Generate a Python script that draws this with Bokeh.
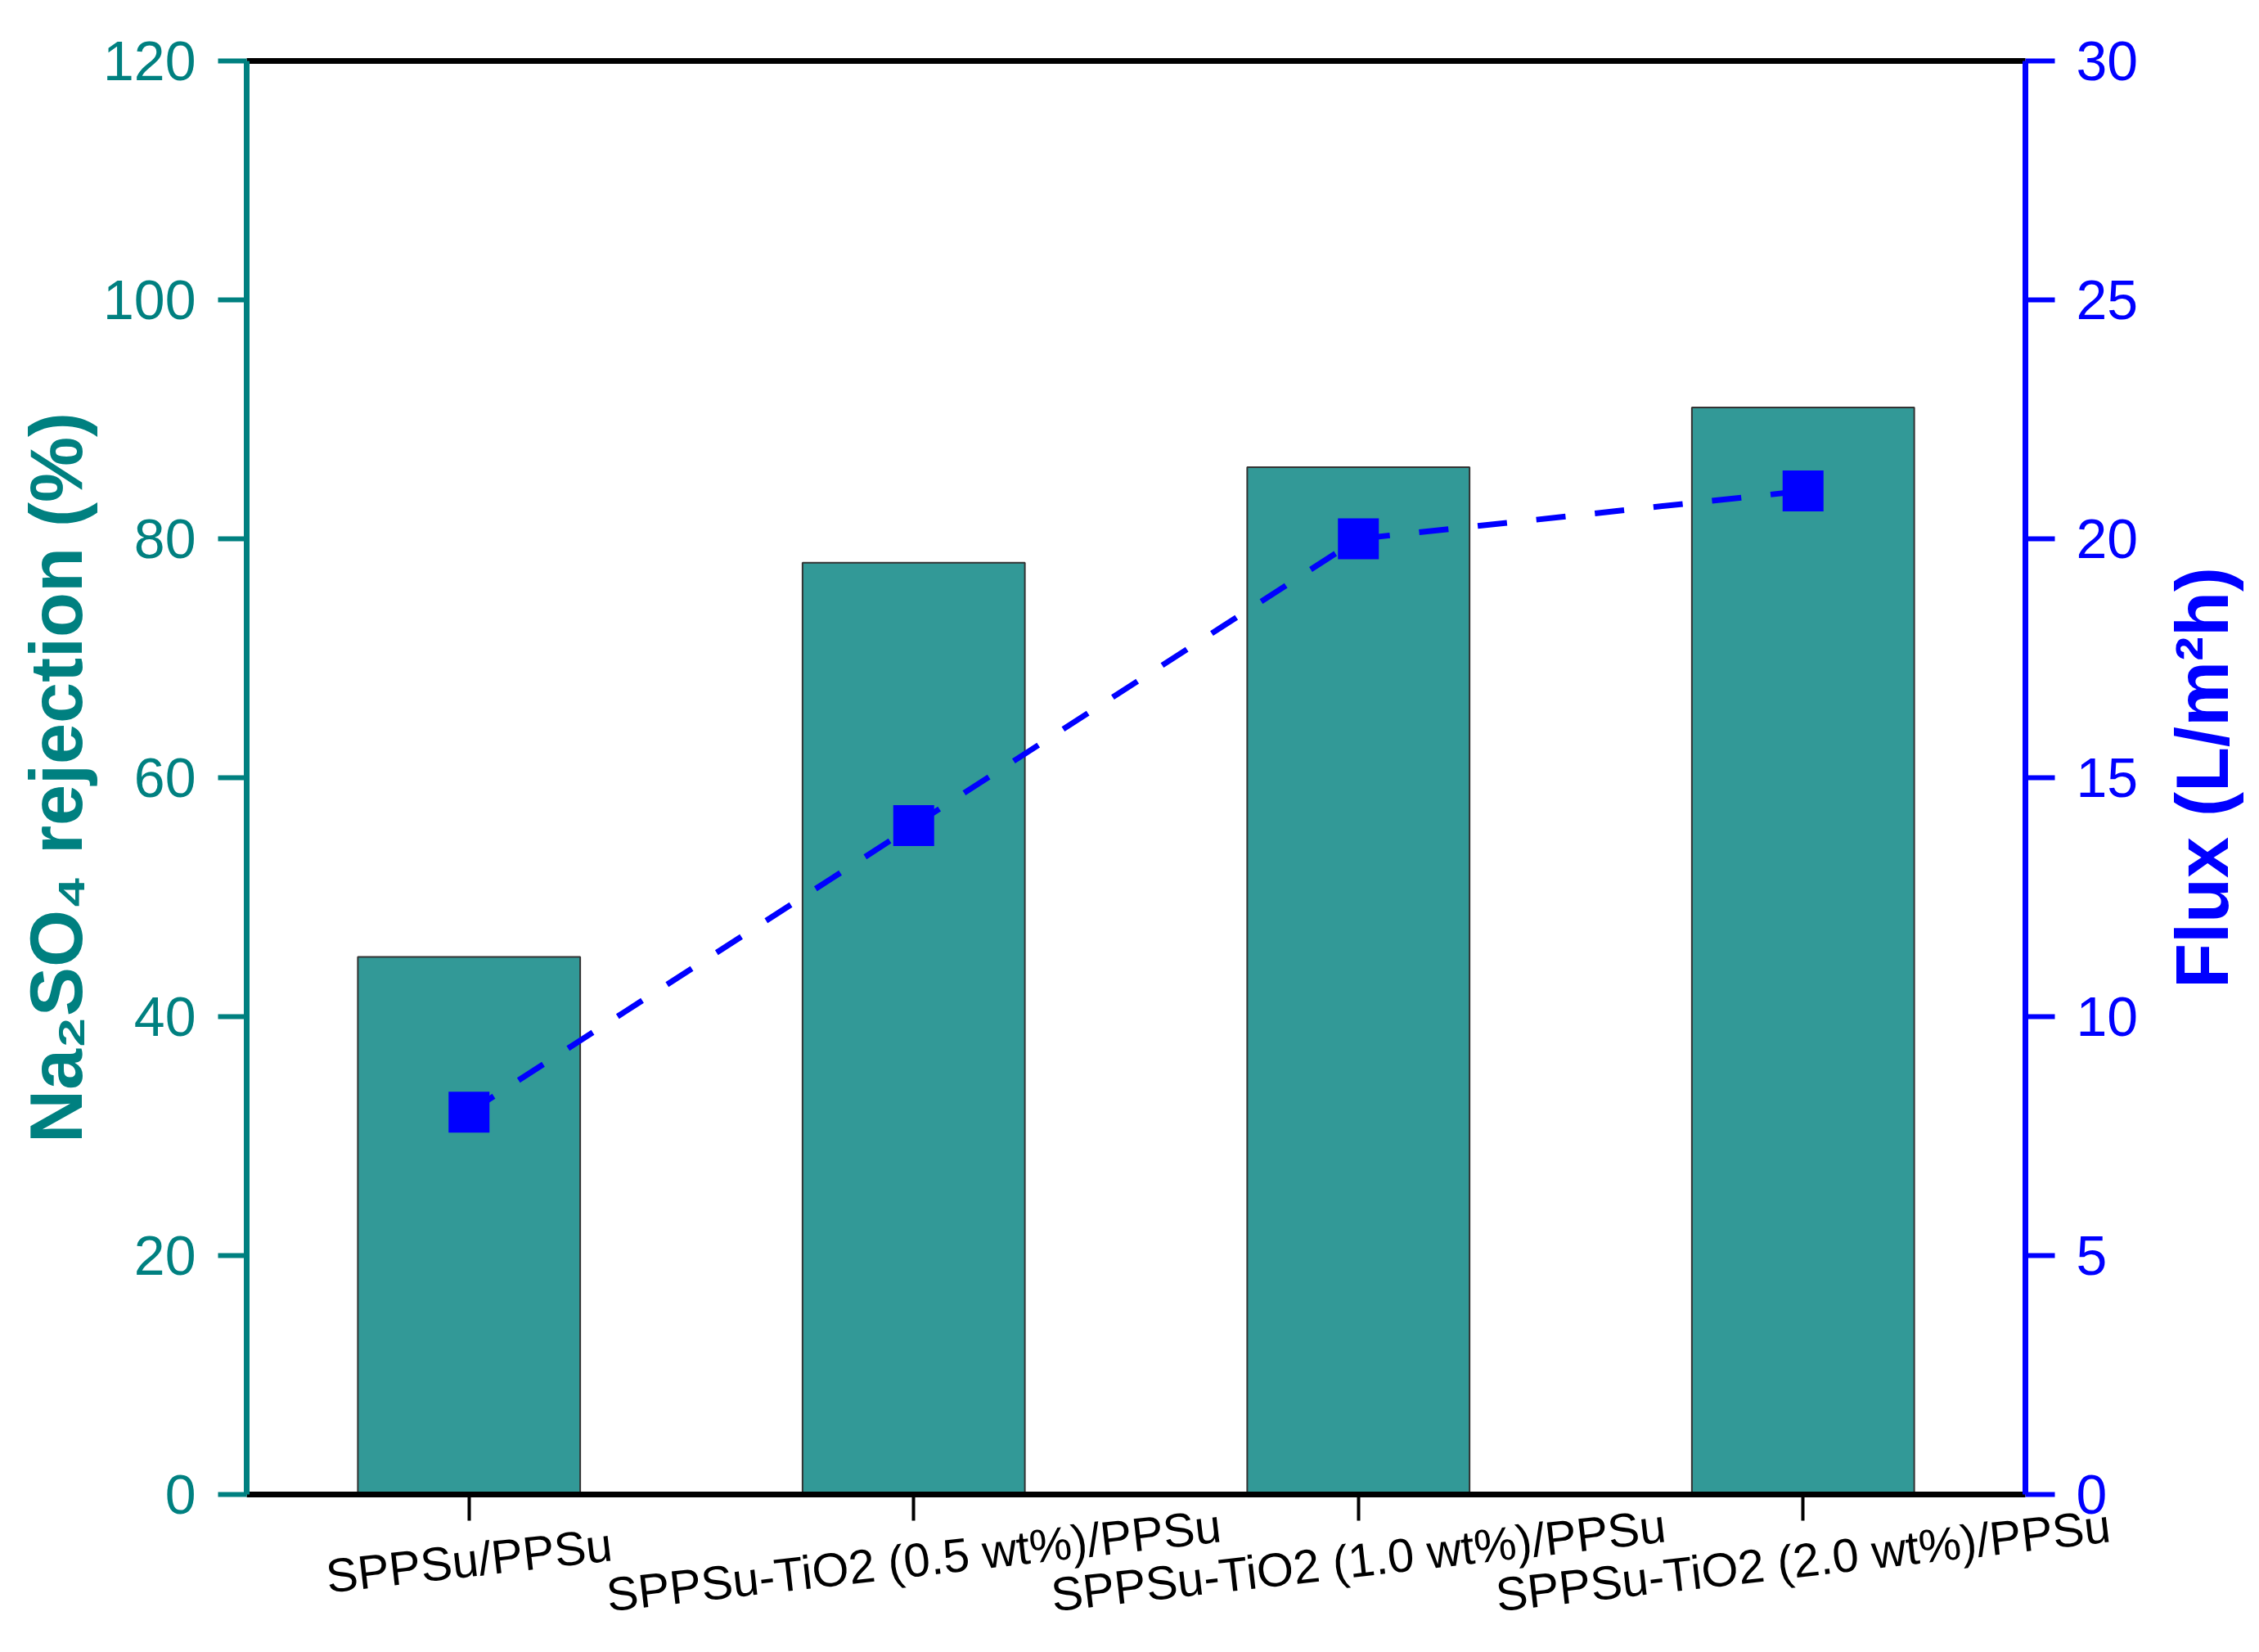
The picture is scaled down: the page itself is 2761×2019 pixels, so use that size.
from bokeh.plotting import figure
from bokeh.models import (Range1d, LinearAxis, FixedTicker,
                          ColumnDataSource, Label)
from bokeh.embed import file_html
from bokeh.resources import INLINE

# ---- data ----
categories = ["SPPSu/PPSu",
              "SPPSu-TiO2 (0.5 wt%)/PPSu",
              "SPPSu-TiO2 (1.0 wt%)/PPSu",
              "SPPSu-TiO2 (2.0 wt%)/PPSu"]
rejection = [45, 78, 86, 91]        # Na2SO4 rejection (%)
flux = [8, 14, 20, 21]              # Flux (L/m2h)
left_ticks = [0, 20, 40, 60, 80, 100, 120]
right_ticks = [0, 5, 10, 15, 20, 25, 30]
left_max = 120
right_max = 30

TEAL = "#008080"
BAR = "#329997"
BLUE = "#0000FF"
FONT = "Liberation Sans"

# ---- layout (pixels) ----
W, H = 2753, 2011
FL, FR, FT, FB = 301, 2475, 74, 1826   # axes box in page pixels

n = len(categories)
xpos = [i + 1 for i in range(n)]
x_lo, x_hi = 0.5, n + 0.5
xs = (FR - FL) / (x_hi - x_lo)
ys = (FB - FT) / left_max
x_range = Range1d(x_lo - FL / xs, x_hi + (W - FR) / xs)
y_range = Range1d(-(H - FB) / ys, left_max + FT / ys)
k = right_max / left_max
flux_range = Range1d(y_range.start * k, y_range.end * k)

src = ColumnDataSource(dict(x=xpos, cat=categories, rej=rejection, flux=flux))

p = figure(width=W, height=H, x_range=x_range, y_range=y_range,
           output_backend="svg", toolbar_location=None,
           x_axis_location=None, y_axis_location=None, min_border=0)
p.extra_y_ranges = {"flux": flux_range}
p.background_fill_color = "white"
p.border_fill_color = "white"
p.outline_line_color = None
p.grid.visible = False

# bars
p.vbar(x="x", top="rej", width=0.5, source=src, fill_color=BAR,
       line_color="#333333", line_width=2)

# flux line + markers
p.line(x="x", y="flux", source=src, y_range_name="flux", line_color=BLUE,
       line_width=7, line_dash="36 36")
p.scatter(x="x", y="flux", source=src, y_range_name="flux", marker="square",
          size=50, fill_color=BLUE, line_color=None)

# bottom axis (ticks only; category labels drawn rotated below)
ba = LinearAxis(fixed_location=0, ticker=FixedTicker(ticks=xpos),
                bounds=(x_lo, x_hi))
ba.major_label_overrides = {x: "" for x in xpos}
ba.axis_line_color = "black"
ba.axis_line_width = 7
ba.major_tick_line_color = "black"
ba.major_tick_line_width = 4
ba.major_tick_out = 32
ba.major_tick_in = 0
ba.minor_tick_line_color = None
p.add_layout(ba, "below")

# top border line
ta = LinearAxis(fixed_location=left_max, ticker=FixedTicker(ticks=[]),
                bounds=(x_lo, x_hi))
ta.axis_line_color = "black"
ta.axis_line_width = 7
ta.major_tick_line_color = None
ta.minor_tick_line_color = None
p.add_layout(ta, "above")

# left axis
la = LinearAxis(fixed_location=x_lo, ticker=FixedTicker(ticks=left_ticks),
                bounds=(0, left_max))
la.axis_line_color = TEAL
la.axis_line_width = 7
la.major_tick_line_color = TEAL
la.major_tick_line_width = 6
la.major_tick_out = 35
la.major_tick_in = 0
la.minor_tick_line_color = None
la.major_label_text_font = FONT
la.major_label_text_font_size = "68px"
la.major_label_text_color = TEAL
la.major_label_standoff = 27
la.axis_label = "Na₂SO₄ rejection (%)"
la.axis_label_text_font = FONT
la.axis_label_text_font_style = "bold"
la.axis_label_text_font_size = "90px"
la.axis_label_text_color = TEAL
la.axis_label_standoff = 4
p.add_layout(la, "left")

# right axis
ra = LinearAxis(y_range_name="flux", fixed_location=x_hi,
                ticker=FixedTicker(ticks=right_ticks), bounds=(0, right_max))
ra.axis_line_color = BLUE
ra.axis_line_width = 7
ra.major_tick_line_color = BLUE
ra.major_tick_line_width = 6
ra.major_tick_out = 36
ra.major_tick_in = 0
ra.minor_tick_line_color = None
ra.major_label_text_font = FONT
ra.major_label_text_font_size = "68px"
ra.major_label_text_color = BLUE
ra.major_label_standoff = 26
p.add_layout(ra, "right")

# right axis title, reading bottom-to-top
p.add_layout(Label(x=x_hi, y=right_max / 2, y_range_name="flux",
                   x_offset=216, angle=90, angle_units="deg",
                   text="Flux (L/m²h)", text_align="center",
                   text_baseline="middle", text_font=FONT,
                   text_font_style="bold", text_font_size="90px",
                   text_color=BLUE))

# rotated category labels
for xv, c in zip(xpos, categories):
    p.add_layout(Label(x=xv, y=0, y_offset=-80, angle=6.5, angle_units="deg",
                       text=c, text_align="center", text_baseline="middle",
                       text_font=FONT, text_font_size="58px",
                       text_color="black"))

open("out.html", "w").write(file_html(p, INLINE))
